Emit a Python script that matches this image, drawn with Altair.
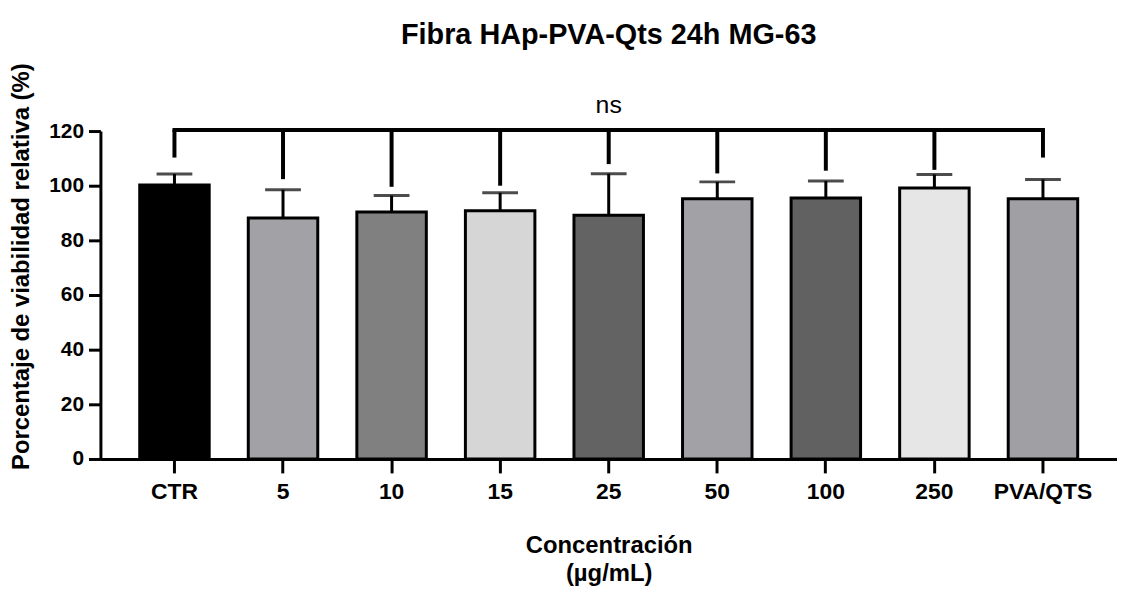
import altair as alt
import pandas as pd

categories = ["CTR", "5", "10", "15", "25", "50", "100", "250", "PVA/QTS"]
means = [100.3, 88.2, 90.4, 90.8, 89.2, 95.2, 95.5, 99.2, 95.2]
upper = [104.3, 98.5, 96.4, 97.4, 104.4, 101.4, 101.7, 104.1, 102.3]
bracket_end = [110.3, 102.4, 99.6, 100.0, 107.9, 104.5, 105.5, 105.8, 110.3]
fills = ["#000000", "#a2a1a6", "#808080", "#d6d6d6", "#636363", "#a2a1a6", "#616161", "#e6e6e6", "#a09fa4"]
bracket_level = 120.4
ns_label = "ns"

df = pd.DataFrame({
    "cat": categories,
    "mean": means,
    "upper": upper,
    "bend": bracket_end,
    "fill": fills,
    "btop": [bracket_level] * len(categories),
})

FONT = "Liberation Sans"

x = alt.X(
    "cat:N",
    sort=categories,
    scale=alt.Scale(paddingInner=0.36, paddingOuter=0.362),
    axis=alt.Axis(
        title=["Concentración", "(µg/mL)"],
        labelAngle=0,
        labelFont=FONT, labelFontSize=23, labelFontWeight="bold", labelColor="black",
        labelPadding=8,
        domainColor="black", domainWidth=3,
        tickColor="black", tickWidth=3, tickSize=14,
        titleFont=FONT, titleFontSize=24, titleFontWeight="bold", titleColor="black",
        titleLineHeight=28, titleBaseline="top", titleY=75,
    ),
)

y_scale = alt.Scale(domain=[0, 120], nice=False)
y_axis = alt.Axis(
    title="Porcentaje de viabilidad relativa (%)",
    values=[0, 20, 40, 60, 80, 100, 120],
    grid=False,
    labelFont=FONT, labelFontSize=21, labelFontWeight="bold", labelColor="black",
    labelPadding=5,
    domainColor="black", domainWidth=3,
    tickColor="black", tickWidth=3, tickSize=12,
    titleFont=FONT, titleFontSize=24, titleFontWeight="bold", titleColor="black",
    titleBaseline="middle", titleX=-79, titleY=136, titleAngle=-90,
)

base = alt.Chart(df)

bars = base.mark_bar(stroke="black", strokeWidth=3).encode(
    x=x,
    y=alt.Y("mean:Q", scale=y_scale, axis=y_axis),
    fill=alt.Fill("fill:N", scale=None),
)

err = base.mark_rule(color="black", strokeWidth=3).encode(
    x=alt.X("cat:N", sort=categories),
    y=alt.Y("mean:Q"),
    y2="upper:Q",
)

caps = base.mark_tick(color="black", thickness=3, size=36, orient="horizontal").encode(
    x=alt.X("cat:N", sort=categories),
    y=alt.Y("upper:Q"),
)

drops = base.mark_rule(color="black", strokeWidth=4).encode(
    x=alt.X("cat:N", sort=categories),
    y=alt.Y("bend:Q"),
    y2="btop:Q",
)

hline = base.mark_line(color="black", strokeWidth=4, strokeCap="square").encode(
    x=alt.X("cat:N", sort=categories),
    y=alt.Y("btop:Q"),
)

ns = alt.Chart(pd.DataFrame({"cat": ["25"], "v": [129.5], "t": [ns_label]})).mark_text(
    font=FONT, fontSize=25, color="black", baseline="middle", align="center"
).encode(
    x=alt.X("cat:N", sort=categories),
    y=alt.Y("v:Q"),
    text="t:N",
)

chart = alt.layer(bars, err, caps, drops, hline, ns).properties(
    width=1023,
    height=330,
    title=alt.TitleParams(
        "Fibra HAp-PVA-Qts 24h MG-63",
        font=FONT, fontSize=29, fontWeight="bold", color="black",
        anchor="middle", offset=13,
    ),
    autosize=alt.AutoSizeParams(type="none"),
    padding={"left": 93, "top": 122, "right": 0, "bottom": 127},
).configure_view(stroke=None)

chart.save("out.html", embed_options={"renderer": "svg", "actions": False})
